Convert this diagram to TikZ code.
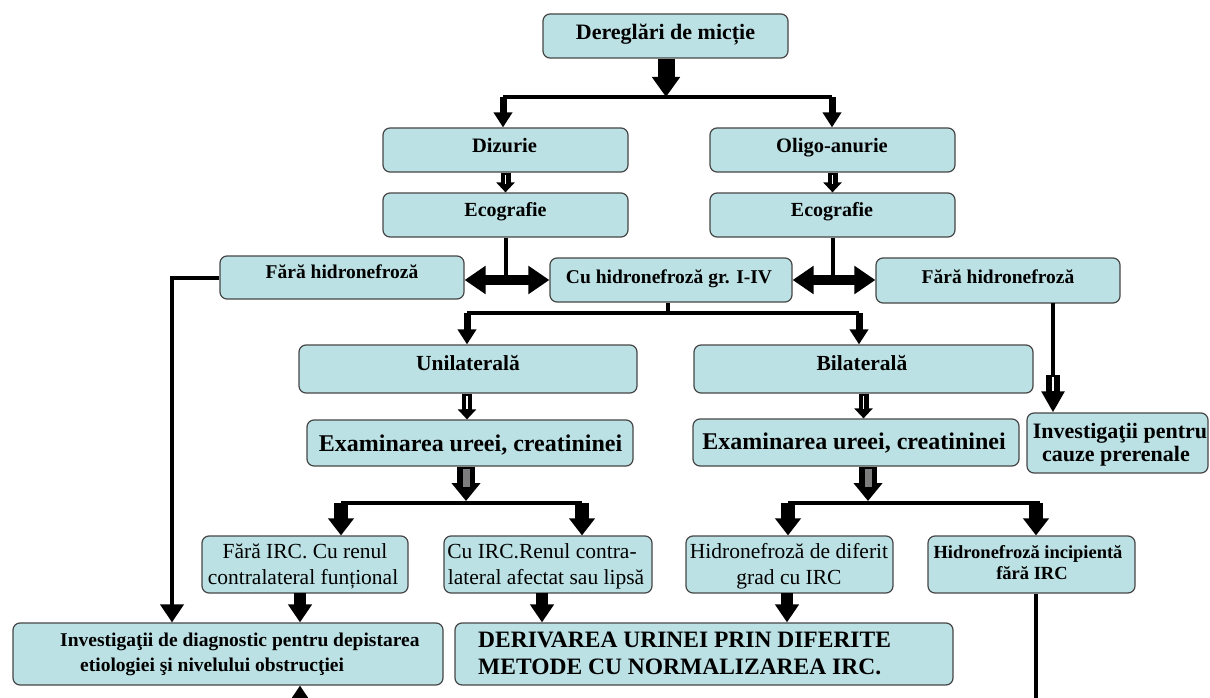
\documentclass[tikz,border=0pt]{standalone}
\usepackage{fontspec}
\setmainfont{Liberation Serif}
\usetikzlibrary{arrows.meta,calc}
\definecolor{boxfill}{RGB}{188,225,228}
\definecolor{boxline}{RGB}{70,70,70}
\definecolor{arrgrey}{RGB}{125,125,125}
\newcommand\mkbox[5]{%
  \pgfmathsetmacro\mbxx{(#2+#4)/2}\pgfmathsetmacro\mbyy{(#3+#5)/2}%
  \pgfmathsetmacro\mbww{#4-#2}\pgfmathsetmacro\mbhh{#5-#3}%
  \node[box, minimum width=\mbww pt, minimum height=\mbhh pt] (#1) at (\mbxx,\mbyy) {};}
\newcommand\bsz[1]{\fontsize{#1}{#1}\selectfont\bfseries}
\newcommand\rsz[1]{\fontsize{#1}{#1}\selectfont}
\tikzset{
  box/.style={draw=boxline, fill=boxfill, line width=1.2pt, rounded corners=7pt, inner sep=0pt},
  txt/.style={anchor=base, inner sep=0pt},
  txtw/.style={anchor=base west, inner sep=0pt},
  line4/.style={line width=4pt},
  arrowA/.style={line width=17pt, -{Triangle[width=27pt,length=20pt]}},
  arrowM/.style={line width=7pt, -{Triangle[width=18pt,length=15pt]}},
  arrowH/.style={line width=10pt, -{Triangle[width=18pt,length=10pt]}},
  dbl/.style={line width=10pt, {Triangle[width=27pt,length=21pt]}-{Triangle[width=27pt,length=21pt]}},
  arrowG/.style={line width=18pt, -{Triangle[width=28pt,length=18pt]}},
  arrowB/.style={line width=14pt, -{Triangle[width=25pt,length=17pt]}},
  arrowC/.style={line width=12pt, -{Triangle[width=23pt,length=18pt]}},
  thinarrow/.style={line width=4pt, -{Triangle[width=23pt,length=18pt]}},
  hollowbig/.style={line width=14pt, -{Triangle[width=22pt,length=21pt]}},
  inw/.style={white, line width=1.6pt},
  ing/.style={arrgrey, line width=7pt},
}
\begin{document}
\begin{tikzpicture}[x=1pt,y=-1pt]
\useasboundingbox (0,0) rectangle (1210,698);
\clip (0,0) rectangle (1210,698);
\fill[white] (0,0) rectangle (1210,698);

% boxes
\mkbox{top}{543}{14}{788}{58}
\mkbox{diz}{383}{128}{628}{172}
\mkbox{oli}{710}{128}{955}{172}
\mkbox{ecoa}{383}{193}{628}{237}
\mkbox{ecob}{710}{193}{955}{237}
\mkbox{fha}{220}{256}{464}{299}
\mkbox{cu}{550}{258}{792}{302}
\mkbox{fhb}{876}{258}{1120}{303}
\mkbox{uni}{299}{345}{637}{393}
\mkbox{bil}{694}{345}{1033}{393}
\mkbox{exa}{307}{420}{633}{466}
\mkbox{exb}{693}{419}{1019}{466}
\mkbox{inv}{1027}{413}{1208}{473}
\mkbox{fi}{202}{536}{408}{593}
\mkbox{ci}{444}{536}{652}{593}
\mkbox{hd}{686}{536}{893}{593}
\mkbox{hi}{928}{536}{1135}{593}
\mkbox{idg}{13}{623}{443}{685}
\mkbox{der}{455}{623}{953}{685}

% texts
\node[txt, font=\bsz{22}] (t0) at (665.5,40) {Dereglări de micție};
\node[txt, font=\bsz{20.5}] (t1) at (504.5,153) {Dizurie};
\node[txt, font=\bsz{20.5}] (t2) at (832,153) {Oligo-anurie};
\node[txt, font=\bsz{20}] (t3) at (505.5,216) {Ecografie};
\node[txt, font=\bsz{20}] (t4) at (832,216) {Ecografie};
\node[txt, font=\bsz{19.5}] (t5) at (342,278) {Fără hidronefroză};
\node[txt, font=\bsz{19.5}] (t6) at (669,283) {Cu hidronefroză gr. I-IV};
\node[txt, font=\bsz{19.5}] (t7) at (998,283) {Fără hidronefroză};
\node[txt, font=\bsz{21.5}] (t8) at (468,370) {Unilaterală};
\node[txt, font=\bsz{21.5}] (t9) at (862,370) {Bilaterală};
\node[txt, font=\bsz{24}] (t10) at (470.5,451) {Examinarea ureei, creatininei};
\node[txt, font=\bsz{24}] (t11) at (854,449) {Examinarea ureei, creatininei};
\node[txt, font=\bsz{22}] (t12) at (1120,438) {Investigaţii pentru};
\node[txt, font=\bsz{22}] (t13) at (1116,461) {cauze prerenale};
\node[txt, font=\rsz{21.5}] (t14) at (305,558) {Fără IRC. Cu renul};
\node[txt, font=\rsz{21.5}] (t15) at (303,584) {contralateral funțional};
\node[txt, font=\rsz{21.5}] (t16) at (542,558) {Cu IRC.Renul contra-};
\node[txt, font=\rsz{21.5}] (t17) at (546,584) {lateral afectat sau lipsă};
\node[txt, font=\rsz{21.5}] (t18) at (789,558) {Hidronefroză de diferit};
\node[txt, font=\rsz{21.5}] (t19) at (789,584) {grad cu IRC};
\node[txt, font=\bsz{18.5}] (t20) at (1028,558) {Hidronefroză incipientă};
\node[txt, font=\bsz{18.5}] (t21) at (1032,579) {fără IRC};
\node[txtw, font=\bsz{19.5}] (t22) at (60,646) {Investigaţii de diagnostic pentru depistarea};
\node[txtw, font=\bsz{19.5}] (t23) at (80,671) {etiologiei şi nivelului obstrucţiei};
\node[txtw, font=\bsz{23.5}] (t24) at (478,647) {DERIVAREA URINEI PRIN DIFERITE};
\node[txtw, font=\bsz{23.5}] (t25) at (478,674) {METODE CU NORMALIZAREA IRC.};

% junction coordinates
\coordinate (j0) at (666,97);
\coordinate (j0L) at (503,97);
\coordinate (j0R) at (832,97);
\coordinate (j1) at (668,313);
\coordinate (j1L) at (467,313);
\coordinate (j1R) at (859,313);
\coordinate (j2) at (466,501);
\coordinate (j2L) at (341,503);
\coordinate (j2R) at (582,503);
\coordinate (j3) at (868,501);
\coordinate (j3L) at (788,503);
\coordinate (j3R) at (1040,503);
\coordinate (j3A) at (1036,503);
\coordinate (c1) at (172,277.5);
\coordinate (c2) at (1053,303);
\coordinate (c3) at (1053,375);
\coordinate (c4) at (300,725);
\coordinate (c5) at (1036,720);
\coordinate (k1) at (300,593);
\coordinate (k2) at (542,593);
\coordinate (k3) at (787,593);

% top
\draw[arrowA] (top.south -| j0) -- (j0);
\draw[line4] (j0L) -- (j0R);
\draw[arrowM] (j0L) -- (j0L |- diz.north);
\draw[arrowM] (j0R) -- (j0R |- oli.north);
\draw[arrowH] (diz.south) -- (ecoa.north);
\draw[inw] ($(diz.south)+(0,2)$) -- ($(diz.south)+(0,11)$);
\draw[arrowH] (oli.south) -- (ecob.north);
\draw[inw] ($(oli.south)+(0,2)$) -- ($(oli.south)+(0,11)$);

% ecografie to hydronephrosis
\draw[line4] (ecoa.south) -- (ecoa.south |- cu.west);
\draw[line4] (ecob.south) -- (ecob.south |- cu.east);
\draw[dbl] (fha.east |- cu.west) -- (cu.west);
\draw[dbl] (cu.east) -- (fhb.west |- cu.east);

% cu -> uni / bil
\draw[line4] (cu.south -| j1) -- (j1);
\draw[line4] (j1L) -- (j1R);
\draw[arrowM] (j1L) -- (j1L |- uni.north);
\draw[arrowM] (j1R) -- (j1R |- bil.north);
\draw[arrowH] (uni.south -| j1L) -- (j1L |- exa.north);
\draw[inw] ($(uni.south -| j1L)+(0,2)$) -- ($(uni.south -| j1L)+(0,15)$);
\draw[arrowH] (bil.south) -- (bil.south |- exb.north);
\draw[inw] ($(bil.south)+(0,2)$) -- ($(bil.south)+(0,15)$);

% left line
\draw[thinarrow] (fha.west) -- (c1) -- (c1 |- idg.north);

% right line
\draw[line4] (c2) -- (c3);
\draw[hollowbig] (c3) -- (c3 |- inv.north);
\draw[inw] ($(c3)+(0,2)$) -- ($(c3)+(0,16)$);

% examinarea L
\draw[arrowG] (j2 |- exa.south) -- (j2);
\draw[ing] ($(j2 |- exa.south)+(0,2)$) -- ($(j2 |- exa.south)+(0,20)$);
\draw[line4] (j2L) -- (j2R);
\draw[arrowB] (j2L) -- (j2L |- fi.north);
\draw[arrowB] (j2R) -- (j2R |- ci.north);
% examinarea R
\draw[arrowG] (j3 |- exb.south) -- (j3);
\draw[ing] ($(j3 |- exb.south)+(0,2)$) -- ($(j3 |- exb.south)+(0,20)$);
\draw[line4] (j3L) -- (j3R);
\draw[arrowB] (j3L) -- (j3L |- hd.north);
\draw[arrowB] (j3A) -- (j3A |- hi.north);

% to bottom boxes
\draw[arrowC] (k1) -- (k1 |- idg.north);
\draw[arrowC] (k2) -- (k2 |- der.north);
\draw[arrowC] (k3) -- (k3 |- der.north);
\draw[line4] (hi.south -| c5) -- (c5);
\draw[thinarrow] (c4) -- (c4 |- idg.south);
\end{tikzpicture}
\end{document}
